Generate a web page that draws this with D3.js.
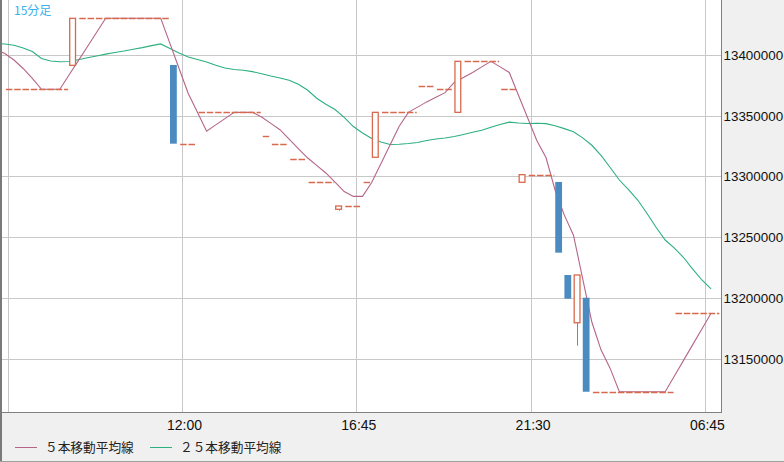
<!DOCTYPE html>
<html>
<head>
<meta charset="utf-8">
<script src="https://cdn.jsdelivr.net/npm/d3@7/dist/d3.min.js"></script>
<style>
  html, body { margin: 0; padding: 0; background: #f0f0f0; }
  svg { display: block; }
</style>
</head>
<body>
<div id="chart"></div>
<script>
// 15-minute bars, index 0..77 (values in JPY)
const opens = [
  13371800,13371800,13371800,13371800,13371800,13371800,13371800,13391500,13430200,13430200,
  13430200,13430200,13430200,13430200,13430200,13430200,13430200,13430200,13391800,13327000,
  13327000,13352800,13352800,13352800,13352800,13352800,13352800,13352800,13333300,13326700,
  13326700,13314100,13314100,13295500,13295500,13295500,13273000,13275700,13275700,13295200,
  13315800,13352800,13352800,13352800,13352800,13374200,13374200,13371800,13371800,13352800,
  13394800,13394800,13394800,13394800,13371800,13371800,13295200,13301500,13301500,13301500,
  13295500,13218900,13179600,13200200,13122800,13122800,13122800,13122800,13122800,13122800,
  13122800,13122800,13122800,13187400,13187400,13187400,13187400,13187400
];
const highs = [
  13371800,13371800,13371800,13371800,13371800,13371800,13371800,13430200,13430200,13430200,
  13430200,13430200,13430200,13430200,13430200,13430200,13430200,13430200,13391800,13327000,
  13327000,13352800,13352800,13352800,13352800,13352800,13352800,13352800,13333300,13326700,
  13326700,13314100,13314100,13295500,13295500,13295500,13275700,13275700,13275700,13295200,
  13352800,13352800,13352800,13352800,13352800,13374200,13374200,13371800,13371800,13394800,
  13394800,13394800,13394800,13394800,13371800,13371800,13301500,13301500,13301500,13301500,
  13295500,13218900,13218900,13200200,13122800,13122800,13122800,13122800,13122800,13122800,
  13122800,13122800,13122800,13187400,13187400,13187400,13187400,13187400
];
const lows = [
  13371800,13371800,13371800,13371800,13371800,13371800,13371800,13391500,13430200,13430200,
  13430200,13430200,13430200,13430200,13430200,13430200,13430200,13430200,13327000,13327000,
  13327000,13352800,13352800,13352800,13352800,13352800,13352800,13352800,13333300,13326700,
  13326700,13314100,13314100,13295500,13295500,13295500,13271800,13275700,13275700,13295200,
  13315800,13352800,13352800,13352800,13352800,13374200,13374200,13371800,13371800,13352800,
  13394800,13394800,13394800,13394800,13371800,13371800,13295200,13301500,13301500,13301500,
  13237300,13199400,13160700,13122800,13122800,13122800,13122800,13122800,13122800,13122800,
  13122800,13122800,13122800,13187400,13187400,13187400,13187400,13187400
];
const closes = [
  13371800,13371800,13371800,13371800,13371800,13371800,13371800,13430200,13430200,13430200,
  13430200,13430200,13430200,13430200,13430200,13430200,13430200,13430200,13327000,13327000,
  13327000,13352800,13352800,13352800,13352800,13352800,13352800,13352800,13333300,13326700,
  13326700,13314100,13314100,13295500,13295500,13295500,13275700,13275700,13275700,13295200,
  13352800,13352800,13352800,13352800,13352800,13374200,13374200,13371800,13371800,13394800,
  13394800,13394800,13394800,13394800,13371800,13371800,13301500,13301500,13301500,13301500,
  13237300,13199400,13218900,13122800,13122800,13122800,13122800,13122800,13122800,13122800,
  13122800,13122800,13122800,13187400,13187400,13187400,13187400,13187400
];

// moving averages, first value belongs to bar -1
const maStart = -1;
const ma5 = [
  13404500,13401200,13395900,13388900,13380700,13371800,13371800,13371800,13383500,13395200,
  13406800,13418500,13430200,13430200,13430200,13430200,13430200,13430200,13430200,13409600,
  13388900,13368300,13352800,13337300,13342500,13347600,13352800,13352800,13352800,13348900,
  13343700,13338500,13330700,13323000,13315400,13309200,13302900,13295300,13287600,13283600,
  13283600,13295000,13310400,13325900,13341300,13352800,13357100,13361400,13365200,13369000,
  13377400,13381500,13385600,13390200,13394800,13390200,13385600,13366900,13348300,13329600,
  13315600,13288700,13268200,13251700,13216000,13180200,13157300,13142000,13122800,13122800,
  13122800,13122800,13122800,13122800,13135700,13148600,13161600,13174500,13187400
];
const ma25 = [
  13409500,13409000,13408000,13405800,13402900,13397100,13395100,13394400,13394600,13396100,
  13397700,13399200,13400700,13402100,13403300,13404700,13406100,13407700,13409100,13405400,
  13401600,13398400,13396300,13394200,13391500,13389300,13388100,13387400,13386300,13384600,
  13382700,13381100,13379200,13375900,13371200,13364400,13359400,13355100,13348600,13341100,
  13335800,13331300,13328400,13326300,13326500,13327100,13328000,13329600,13330900,13331700,
  13332900,13334600,13336400,13338000,13340500,13342800,13344700,13344000,13343600,13343800,
  13343500,13341700,13339400,13336800,13331800,13325700,13317300,13307400,13297100,13289100,
  13280600,13269700,13258200,13247700,13241100,13233300,13223800,13214800,13207400
];

const xTickIndex = [0, 19, 38, 57, 76];
const xTickText = ["", "12:00", "16:45", "21:30", "06:45"];
const yTicks = [13150000, 13200000, 13250000, 13300000, 13350000, 13400000];
const legendNames = ["５本移動平均線", "２５本移動平均線"];
const legendColors = ["#b5658a", "#2cb07e"];

const W = 784, H = 462;
const plot = {left: 1, top: 0, right: 721, bottom: 412};
const upColor = "#d8694c", downColor = "#4b8bc0";

const x = d3.scaleLinear().domain([0, 76]).range([8.3, 705.4]);
const y = d3.scaleLinear().domain([13150000, 13400000]).range([358.7, 55]);
const maShift = -3.5;

const svg = d3.select("#chart").append("svg")
    .attr("width", W)
    .attr("height", H);

svg.append("rect")
  .attr("width", W).attr("height", H)
  .attr("fill", "#f0f0f0");

svg.append("defs").append("clipPath").attr("id", "clip")
  .append("rect")
    .attr("x", plot.left).attr("y", plot.top)
    .attr("width", plot.right - plot.left).attr("height", plot.bottom - plot.top);

svg.append("rect")
  .attr("x", plot.left).attr("y", plot.top)
  .attr("width", plot.right - plot.left).attr("height", plot.bottom - plot.top)
  .attr("fill", "#ffffff");

const g = svg.append("g").attr("clip-path", "url(#clip)");

// grid
g.selectAll(".hgrid")
  .data(yTicks)
  .enter().append("line")
  .attr("x1", plot.left).attr("x2", plot.right)
  .attr("y1", d => Math.round(y(d)) + 0.5)
  .attr("y2", d => Math.round(y(d)) + 0.5)
  .attr("stroke", "#c8c8c8").attr("stroke-width", 1);

g.selectAll(".vgrid")
  .data(xTickIndex)
  .enter().append("line")
  .attr("x1", d => Math.floor(x(d)) + 0.5)
  .attr("x2", d => Math.floor(x(d)) + 0.5)
  .attr("y1", plot.top).attr("y2", plot.bottom)
  .attr("stroke", "#c8c8c8").attr("stroke-width", 1);

// moving averages
function maLine(values) {
  return d3.line()
    .x((d, i) => x(i + maStart) + maShift)
    .y(d => y(d))(values);
}
g.append("path").attr("d", maLine(ma25))
  .attr("fill", "none").attr("stroke", legendColors[1]).attr("stroke-width", 1.1);
g.append("path").attr("d", maLine(ma5))
  .attr("fill", "none").attr("stroke", legendColors[0]).attr("stroke-width", 1.1);

// bars
const bars = closes.map((c, i) => ({i: i, o: opens[i], h: highs[i], l: lows[i], c: c}));
const isFlat = d => d.o === d.c && d.h === d.c && d.l === d.c;

// flat bars (no trade) as dashed runs
const runs = [];
bars.forEach(d => {
  if (!isFlat(d)) return;
  const last = runs[runs.length - 1];
  if (last && last.end === d.i - 1 && last.v === d.c) last.end = d.i;
  else runs.push({start: d.i, end: d.i, v: d.c});
});
g.selectAll(".flat")
  .data(runs)
  .enter().append("line")
  .attr("x1", d => x(d.start) - 2.4)
  .attr("x2", d => x(d.end) + 4.8)
  .attr("y1", d => Math.round(y(d.v)) + 0.5)
  .attr("y2", d => Math.round(y(d.v)) + 0.5)
  .attr("stroke", upColor).attr("stroke-width", 1.4)
  .attr("stroke-dasharray", "6.5,1.8");

const candles = bars.filter(d => !isFlat(d));
g.selectAll(".wick")
  .data(candles.filter(d => d.h > Math.max(d.o, d.c) || d.l < Math.min(d.o, d.c)))
  .enter().append("line")
  .attr("x1", d => Math.round(x(d.i)) + 0.5)
  .attr("x2", d => Math.round(x(d.i)) + 0.5)
  .attr("y1", d => y(d.h)).attr("y2", d => y(d.l))
  .attr("stroke", d => d.c >= d.o ? upColor : downColor).attr("stroke-width", 1);

g.selectAll(".up")
  .data(candles.filter(d => d.c >= d.o))
  .enter().append("rect")
  .attr("x", d => x(d.i) - 2.8)
  .attr("width", 5.8)
  .attr("y", d => y(d.c))
  .attr("height", d => y(d.o) - y(d.c))
  .attr("fill", "#ffffff")
  .attr("stroke", upColor).attr("stroke-width", 1.3);

g.selectAll(".down")
  .data(candles.filter(d => d.c < d.o))
  .enter().append("rect")
  .attr("x", d => x(d.i) - 3.4)
  .attr("width", 6.8)
  .attr("y", d => y(d.o))
  .attr("height", d => y(d.c) - y(d.o))
  .attr("fill", downColor);

// frame
svg.append("line").attr("x1", plot.right + 0.5).attr("x2", plot.right + 0.5)
  .attr("y1", 0).attr("y2", plot.bottom + 1)
  .attr("stroke", "#808080");
svg.append("line").attr("x1", 0).attr("x2", plot.right + 1)
  .attr("y1", plot.bottom + 0.5).attr("y2", plot.bottom + 0.5)
  .attr("stroke", "#808080");
svg.append("line").attr("x1", 1).attr("x2", 1)
  .attr("y1", 0).attr("y2", H)
  .attr("stroke", "#7a7a7a").attr("stroke-width", 2);
svg.append("line").attr("x1", 0).attr("x2", W)
  .attr("y1", H - 0.5).attr("y2", H - 0.5)
  .attr("stroke", "#a0a0a0");

// title
svg.append("text")
  .attr("x", 14).attr("y", 15)
  .attr("font-family", "'Noto Sans CJK JP', sans-serif")
  .attr("font-size", "12px")
  .attr("fill", "#3aafec")
  .text("15分足");

// axis labels
svg.selectAll(".xlab")
  .data(xTickIndex.map((d, i) => ({i: d, t: xTickText[i]})).filter(d => d.t))
  .enter().append("text")
  .attr("x", d => x(d.i) + 2)
  .attr("y", 430)
  .attr("text-anchor", "middle")
  .attr("font-family", "'Liberation Sans', Arial, sans-serif")
  .attr("font-size", "14px")
  .attr("fill", "#111")
  .text(d => d.t);

svg.selectAll(".ylab")
  .data(yTicks)
  .enter().append("text")
  .attr("x", 723.5)
  .attr("y", d => y(d) + 5)
  .attr("font-family", "'Liberation Sans', Arial, sans-serif")
  .attr("font-size", "13.4px")
  .attr("fill", "#111")
  .text(d => d3.format("d")(d));

// legend
const legendX = [15, 150];
legendNames.forEach((name, i) => {
  svg.append("line")
    .attr("x1", legendX[i]).attr("x2", legendX[i] + 22)
    .attr("y1", 447.5).attr("y2", 447.5)
    .attr("stroke", legendColors[i]).attr("stroke-width", 1);
  svg.append("text")
    .attr("x", legendX[i] + 30).attr("y", 452)
    .attr("font-family", "'Noto Sans CJK JP', sans-serif")
    .attr("font-size", "12.7px")
    .attr("fill", "#222")
    .text(name);
});
</script>
</body>
</html>
